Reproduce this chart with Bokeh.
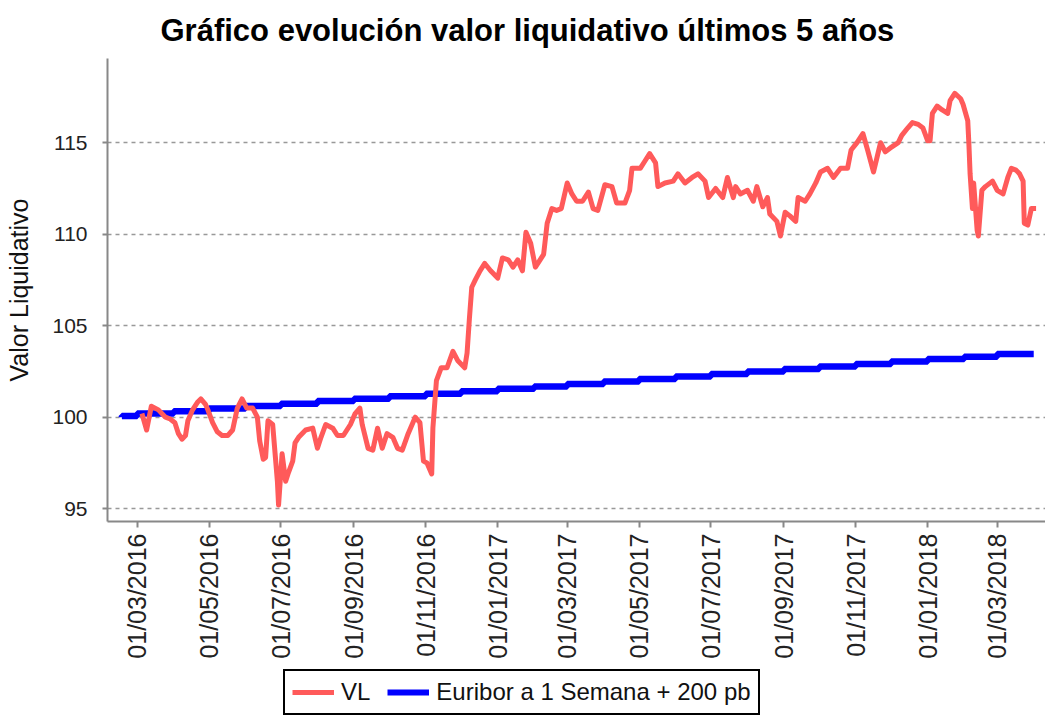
import math
from datetime import datetime
import pandas as pd
from bokeh.plotting import figure
from bokeh.layouts import column
from bokeh.models import FixedTicker, Legend, LegendItem, Range1d, DatetimeTickFormatter
from bokeh.embed import file_html
from bokeh.resources import INLINE

title_text = "Gráfico evolución valor liquidativo últimos 5 años"
y_label = "Valor Liquidativo"
vl_name = "VL"
eur_name = "Euribor a 1 Semana + 200 pb"

x_tick_labels = ["01/03/2016", "01/05/2016", "01/07/2016", "01/09/2016", "01/11/2016",
                 "01/01/2017", "01/03/2017", "01/05/2017", "01/07/2017", "01/09/2017",
                 "01/11/2017", "01/01/2018", "01/03/2018"]
y_ticks = [95, 100, 105, 110, 115]

vl_dates = ["2016-03-05","2016-03-09","2016-03-13","2016-03-19","2016-03-25","2016-03-29",
"2016-04-02","2016-04-05","2016-04-08","2016-04-11","2016-04-13","2016-04-17","2016-04-21","2016-04-24","2016-04-28","2016-04-30",
"2016-05-04","2016-05-08","2016-05-12","2016-05-17","2016-05-21","2016-05-25","2016-05-29",
"2016-06-02","2016-06-07","2016-06-11","2016-06-13","2016-06-16","2016-06-18","2016-06-20","2016-06-24","2016-06-28","2016-06-29",
"2016-07-02","2016-07-05","2016-07-07","2016-07-11","2016-07-13","2016-07-16","2016-07-22","2016-07-28",
"2016-08-01","2016-08-04","2016-08-08","2016-08-14","2016-08-18","2016-08-23","2016-08-29",
"2016-09-02","2016-09-06","2016-09-08","2016-09-13","2016-09-17","2016-09-21","2016-09-25","2016-09-29",
"2016-10-04","2016-10-08","2016-10-12","2016-10-17","2016-10-23","2016-10-27","2016-10-30",
"2016-11-02","2016-11-06","2016-11-07","2016-11-10","2016-11-14","2016-11-19","2016-11-24","2016-11-28",
"2016-12-04","2016-12-06","2016-12-08","2016-12-10","2016-12-13","2016-12-17","2016-12-21","2016-12-26",
"2017-01-01","2017-01-05","2017-01-10","2017-01-14","2017-01-18","2017-01-22","2017-01-25","2017-01-29",
"2017-02-02","2017-02-06","2017-02-09","2017-02-12","2017-02-16","2017-02-20","2017-02-24",
"2017-03-01","2017-03-05","2017-03-09","2017-03-14","2017-03-19","2017-03-23","2017-03-27",
"2017-04-02","2017-04-08","2017-04-12","2017-04-19","2017-04-23","2017-04-25",
"2017-05-02","2017-05-06","2017-05-10","2017-05-15","2017-05-17","2017-05-23","2017-05-30",
"2017-06-03","2017-06-09","2017-06-15","2017-06-20","2017-06-26","2017-06-29",
"2017-07-05","2017-07-11","2017-07-15","2017-07-20","2017-07-22","2017-07-26",
"2017-08-01","2017-08-06","2017-08-09","2017-08-14","2017-08-18","2017-08-20","2017-08-26","2017-08-29",
"2017-09-02","2017-09-06","2017-09-11","2017-09-13","2017-09-19","2017-09-23","2017-09-28",
"2017-10-02","2017-10-08","2017-10-13","2017-10-19","2017-10-25","2017-10-28",
"2017-11-02","2017-11-07","2017-11-11","2017-11-16","2017-11-19","2017-11-22","2017-11-26","2017-11-30",
"2017-12-07","2017-12-10","2017-12-15","2017-12-19","2017-12-24","2017-12-28",
"2018-01-01","2018-01-03","2018-01-05","2018-01-09","2018-01-13","2018-01-18","2018-01-20","2018-01-24","2018-01-29","2018-01-31",
"2018-02-04","2018-02-05","2018-02-06","2018-02-08","2018-02-09","2018-02-12","2018-02-13","2018-02-16","2018-02-19","2018-02-25",
"2018-03-01","2018-03-06","2018-03-10","2018-03-13","2018-03-17","2018-03-20","2018-03-23","2018-03-24","2018-03-27","2018-03-30",
"2018-04-03"]

vl_values = [100.2, 99.3, 100.6, 100.4, 100.0, 99.9,
99.7, 99.1, 98.8, 99.0, 99.8, 100.4, 100.8, 101.0, 100.7, 100.4,
99.7, 99.2, 99.0, 99.0, 99.3, 100.5, 101.0,
100.5, 100.5, 100.0, 98.7, 97.7, 97.8, 99.8, 99.6, 96.5, 95.2,
98.0, 96.5, 96.9, 97.6, 98.6, 98.9, 99.3, 99.4,
98.3, 98.9, 99.6, 99.4, 99.0, 99.0, 99.6,
100.2, 100.5, 99.6, 98.3, 98.2, 99.4, 98.3, 99.1,
98.9, 98.3, 98.2, 99.1, 100.0, 99.7, 97.6,
97.5, 96.9, 99.4, 102.0, 102.7, 102.7, 103.6, 103.1,
102.7, 103.5, 105.4, 107.1, 107.5, 108.0, 108.4, 108.0,
107.6, 108.7, 108.6, 108.2, 108.6, 108.0, 110.1, 109.5,
108.2, 108.6, 108.9, 110.6, 111.4, 111.3, 111.4,
112.8, 112.2, 111.8, 111.8, 112.3, 111.4, 111.3,
112.7, 112.6, 111.7, 111.7, 112.4, 113.6,
113.6, 114.0, 114.4, 113.9, 112.6, 112.8, 112.9,
113.3, 112.8, 113.1, 113.3, 112.9, 112.0,
112.5, 112.0, 113.1, 112.0, 112.6, 112.2,
112.4, 111.8, 112.6, 111.5, 112.0, 111.1, 110.7, 109.9,
111.2, 111.0, 110.7, 112.0, 111.8, 112.2, 112.8,
113.4, 113.6, 113.1, 113.6, 113.6, 114.6,
115.0, 115.5, 114.6, 113.4, 114.2, 115.0, 114.5, 114.7,
115.0, 115.4, 115.8, 116.1, 116.0, 115.8,
115.1, 115.1, 116.6, 117.0, 116.8, 116.6, 117.3, 117.7, 117.4, 117.1,
116.2, 114.9, 113.3, 111.4, 112.8, 110.2, 109.9, 112.4, 112.6, 112.9,
112.4, 112.2, 113.1, 113.6, 113.5, 113.3, 112.9, 110.6, 110.5, 111.4,
111.4]

eur_dates = ["2016-02-17", "2016-03-01", "2016-04-01", "2016-05-01", "2016-06-01", "2016-07-01",
             "2016-08-01", "2016-09-01", "2016-10-01", "2016-11-01", "2016-12-01", "2017-01-01",
             "2017-02-01", "2017-03-01", "2017-04-01", "2017-05-01", "2017-06-01", "2017-07-01",
             "2017-08-01", "2017-09-01", "2017-10-01", "2017-11-01", "2017-12-01", "2018-01-01",
             "2018-02-01", "2018-03-01", "2018-04-01"]
eur_values = [100.00, 100.06, 100.20, 100.33, 100.47, 100.61, 100.74, 100.88, 101.01, 101.15,
              101.28, 101.42, 101.56, 101.68, 101.82, 101.95, 102.09, 102.22, 102.36, 102.50,
              102.63, 102.77, 102.90, 103.04, 103.18, 103.30, 103.45]

FONT = "Liberation Sans"
RED = "#ff5a5a"
BLUE = "#0000ff"

vl_x = pd.to_datetime(vl_dates)
eur_x = pd.to_datetime(eur_dates)
tick_dt = pd.to_datetime(x_tick_labels, format="%d/%m/%Y")
tick_ms = [t.value / 1e6 for t in tick_dt]

p = figure(width=1045, height=668, x_axis_type="datetime",
           output_backend="svg", toolbar_location=None,
           x_range=Range1d(datetime(2016, 2, 4, 19), datetime(2018, 4, 11, 0)),
           y_range=Range1d(94.3, 119.6),
           min_border_left=107, min_border_right=0, min_border_top=58, min_border_bottom=147)

p.title.text = title_text
p.title.text_font = FONT
p.title.text_font_size = "31px"
p.title.text_font_style = "bold"
p.title.text_color = "black"
p.title.align = "left"
p.title.offset = 53
p.title.standoff = 21

r_eur = p.step(eur_x, eur_values, mode="before", line_color=BLUE, line_width=6.5)
r_vl = p.line(vl_x, vl_values, line_color=RED, line_width=5, line_join="round")

p.outline_line_color = None
p.background_fill_color = "white"
p.border_fill_color = "white"
p.xgrid.visible = False
p.ygrid.grid_line_dash = "4 4"
p.ygrid.grid_line_color = "#999999"
p.ygrid.grid_line_width = 1.5

xa = p.xaxis[0]
xa.ticker = FixedTicker(ticks=tick_ms)
xa.formatter = DatetimeTickFormatter(days="%d/%m/%Y", months="%d/%m/%Y", years="%d/%m/%Y")
xa.major_label_orientation = math.pi / 2
xa.major_label_text_font = FONT
xa.major_label_text_font_size = "25px"
xa.major_label_text_color = "#222222"
xa.axis_line_color = "#888888"
xa.axis_line_width = 2
xa.major_tick_line_color = "#888888"
xa.major_tick_line_width = 2
xa.major_tick_out = 6
xa.major_tick_in = 0
xa.minor_tick_line_color = None
xa.major_label_standoff = 6

ya = p.yaxis[0]
ya.ticker = FixedTicker(ticks=y_ticks)
ya.major_label_text_font = FONT
ya.major_label_text_font_size = "21px"
ya.major_label_text_color = "#222222"
ya.axis_line_color = "#888888"
ya.axis_line_width = 2
ya.major_tick_line_color = "#888888"
ya.major_tick_line_width = 2
ya.major_tick_out = 5
ya.major_tick_in = 0
ya.minor_tick_line_color = None
ya.major_label_standoff = 15
ya.axis_label = y_label
ya.axis_label_text_font = FONT
ya.axis_label_text_font_size = "25px"
ya.axis_label_text_font_style = "normal"
ya.axis_label_text_color = "#111111"
ya.axis_label_standoff = 16

# legend strip below the chart (its frame is aligned with the chart's frame)
lg = figure(width=1045, height=49, output_backend="svg", toolbar_location=None,
            x_range=Range1d(0, 1), y_range=Range1d(0, 1),
            x_axis_location=None, y_axis_location=None,
            min_border_left=0, min_border_right=0, min_border_top=0, min_border_bottom=0)
lg.grid.visible = False
lg.outline_line_color = None
lg.border_fill_color = "white"
lg_vl = lg.line(x=[-5, -4], y=[-5, -4], line_color=RED, line_width=5)
lg_eur = lg.line(x=[-5, -4], y=[-5, -4], line_color=BLUE, line_width=6)

legend = Legend(items=[LegendItem(label=vl_name, renderers=[lg_vl]),
                       LegendItem(label=eur_name, renderers=[lg_eur])],
                orientation="horizontal", location=(176, 2),
                border_line_color="black", border_line_width=2, border_line_alpha=1,
                label_text_font=FONT, label_text_font_size="24px", label_text_color="#111111",
                glyph_width=42, glyph_height=20, label_standoff=7, spacing=17,
                padding=7, margin=0, background_fill_color="white", background_fill_alpha=1)
lg.add_layout(legend, "center")

open("out.html", "w").write(file_html(column(p, lg, spacing=0), INLINE))
